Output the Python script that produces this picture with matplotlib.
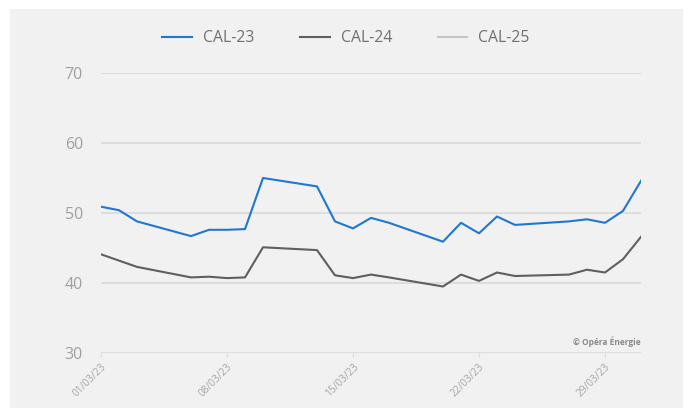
import pandas as pd
import matplotlib.pyplot as plt
import matplotlib.dates as mdates
from matplotlib.patches import Rectangle

dates = pd.to_datetime([
    "2023-03-01", "2023-03-02", "2023-03-03", "2023-03-06", "2023-03-07",
    "2023-03-08", "2023-03-09", "2023-03-10", "2023-03-13", "2023-03-14",
    "2023-03-15", "2023-03-16", "2023-03-17", "2023-03-20", "2023-03-21",
    "2023-03-22", "2023-03-23", "2023-03-24", "2023-03-27", "2023-03-28",
    "2023-03-29", "2023-03-30", "2023-03-31",
])
cal23 = [50.9, 50.4, 48.8, 46.7, 47.6, 47.6, 47.7, 55.0, 53.8, 48.8,
         47.8, 49.3, 48.6, 45.9, 48.6, 47.1, 49.5, 48.3, 48.8, 49.1,
         48.6, 50.3, 54.6]
cal24 = [44.1, 43.2, 42.3, 40.8, 40.9, 40.7, 40.8, 45.1, 44.7, 41.1,
         40.7, 41.2, 40.8, 39.5, 41.2, 40.3, 41.5, 41.0, 41.2, 41.9,
         41.5, 43.4, 46.6]
cal25 = []  # listed in the legend, no values shown

tick_dates = pd.to_datetime(["2023-03-01", "2023-03-08", "2023-03-15",
                             "2023-03-22", "2023-03-29"])
yticks = [30, 40, 50, 60, 70]

plt.rcParams['font.family'] = ['Open Sans', 'DejaVu Sans']
bg = '#f1f1f1'

fig = plt.figure(figsize=(6.92, 4.08), dpi=100, facecolor='white')
# grey card with a thin white margin on the left, top and right
fig.patches.append(Rectangle((10 / 692, 0), 673 / 692, 399 / 408,
                             transform=fig.transFigure, facecolor=bg,
                             edgecolor='none', zorder=-10))

ax = fig.add_axes([101 / 692, 1 - 353 / 408, 540 / 692, 280 / 408])
ax.set_facecolor(bg)

ax.plot(dates, cal23, color='#1f77d4', lw=1.5, label='CAL-23')
ax.plot(dates, cal24, color='#5f5f5f', lw=1.5, label='CAL-24')
ax.plot(dates[:len(cal25)], cal25, color='#c4c4c4', lw=1.5, label='CAL-25')

ax.set_xlim(dates[0], dates[-1])
ax.set_ylim(30, 70)
ax.set_yticks(yticks)
ax.set_xticks(tick_dates)
ax.xaxis.set_major_formatter(mdates.DateFormatter('%d/%m/%y'))
for lbl in ax.get_xticklabels():
    lbl.set_rotation(45)
    lbl.set_ha('right')
    lbl.set_rotation_mode('anchor')

ax.grid(axis='y', color='#d9d9d9', lw=1.2)
ax.set_axisbelow(True)
for s in ax.spines.values():
    s.set_visible(False)
ax.tick_params(axis='y', length=0, labelsize=11.5, labelcolor='#a0a0a0', pad=13)
ax.tick_params(axis='x', length=3, color='#dcdcdc', labelsize=7.3,
               labelcolor='#a5a5a5', pad=3)

ax.text(1.0, 0.02, '© Opéra Énergie', transform=ax.transAxes, ha='right',
        va='bottom', fontsize=6, color='#8a8a8a', fontweight='bold')

fig.legend(loc='upper center', bbox_to_anchor=(0.5, 0.96), ncol=3,
           frameon=False, fontsize=11.3, labelcolor='#707070',
           handlelength=1.9, columnspacing=2.9, handletextpad=0.7)

fig.savefig('out.png', dpi=100, facecolor='white')
